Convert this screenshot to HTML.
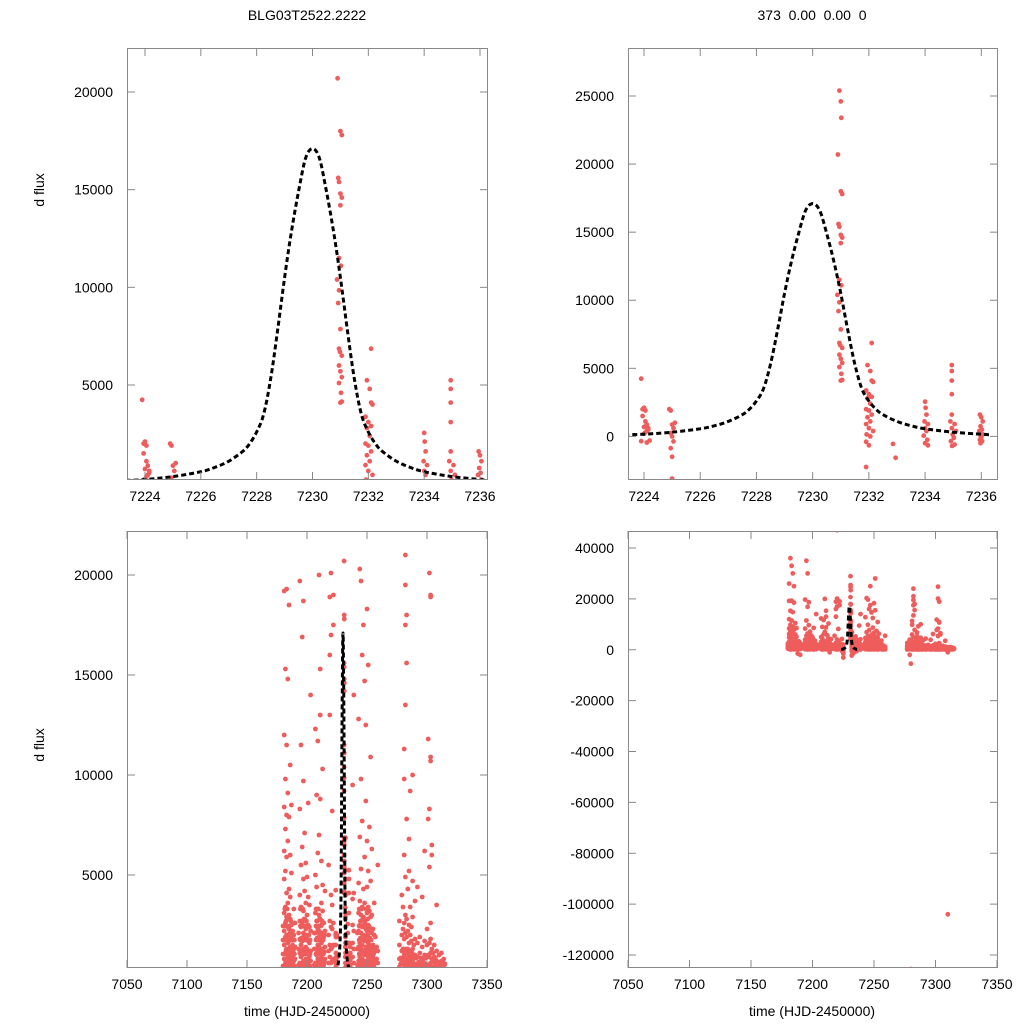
<!DOCTYPE html>
<html><head><meta charset="utf-8"><style>
html,body{margin:0;padding:0;background:#fff;}
svg{display:block;font-family:"Liberation Sans",sans-serif;}
</style></head><body>
<svg id="chart" width="1024" height="1024" viewBox="0 0 1024 1024">
<text x="307" y="20" text-anchor="middle" font-size="14">BLG03T2522.2222</text>
<text x="812" y="20" text-anchor="middle" font-size="14" xml:space="preserve">373  0.00  0.00  0</text>
<text transform="translate(44,190) rotate(-90)" text-anchor="middle" font-size="14">d flux</text>
<text transform="translate(44,745) rotate(-90)" text-anchor="middle" font-size="14">d flux</text>
<text x="307" y="1016" text-anchor="middle" font-size="14">time (HJD-2450000)</text>
<text x="812" y="1016" text-anchor="middle" font-size="14">time (HJD-2450000)</text>
</svg>
<script>
// Event-region observations (time, flux)
const eventT = [7223.9,7223.95,7224.0,7224.05,7224.1,7224.0,7224.15,7223.95,7224.05,7224.1,7224.2,7224.0,7223.9,7224.15,7224.05,7224.1,
7224.9,7224.95,7225.0,7225.05,7224.95,7225.0,7225.05,7224.95,7225.0,7225.0,7225.1,
7230.9,7230.95,7231.0,7231.02,7230.9,7231.0,7231.05,7230.92,7230.95,7231.0,7231.05,7231.0,7230.95,7231.02,7230.88,7230.95,7230.92,7231.0,7230.95,7230.98,7231.05,7230.95,7231.0,7231.05,7230.95,7231.02,7231.0,7231.05,
7232.1,7231.95,7232.05,7232.1,7232.15,7231.9,7232.0,7232.1,7231.95,7232.05,7231.9,7232.0,7232.1,7231.95,7232.05,7231.9,7232.0,7232.15,7231.92,7232.05,7231.9,7232.0,7231.9,
7232.86,7232.95,
7234.0,7234.02,7234.05,7233.98,7234.1,7234.0,7234.05,7233.95,7234.08,7234.0,7234.1,
7234.95,7234.95,7234.95,7234.95,7234.95,7234.9,7235.05,7234.95,7235.1,7234.98,7235.02,7234.92,7235.05,7234.96,
7235.95,7236.0,7236.05,7235.97,7236.02,7235.93,7236.05,7235.98,7236.0,7235.95,7236.03,7235.97];
const eventF = [4240,2000,2100,1900,870,700,500,1500,1100,400,-300,200,-350,600,300,-450,
2000,1900,870,600,250,0,-370,-870,-1500,-3100,1000,
28900,25400,24600,23400,20700,18000,17800,15600,15400,14800,14600,14200,11500,11100,10400,9850,9200,7860,6860,6700,6500,6000,5700,5400,5100,4600,4100,4150,
6860,5240,4800,4100,4000,3370,3100,2900,2800,2400,2000,1900,1600,1400,1100,900,600,400,150,0,-400,-650,-2250,
-550,-1570,
2550,2100,1600,1100,900,600,400,50,-250,-500,-650,
5240,4800,4100,3100,1600,1100,900,600,400,150,-100,-350,-600,-700,
1600,1400,1100,750,500,400,150,0,-100,-250,-350,-500];
// Season observations: night times and flux lists per night
const nightT = [7181,7182,7183,7184,7185,7186,7187,7188,7189,7190,7194,7195,7196,7197,7198,7199,7200,7201,7202,7203,7207,7208,7209,7210,7211,7212,7213,7214,7215,7218,7219,7220,7221,7222,7238,7239,7243,7244,7245,7246,7247,7248,7249,7250,7251,7252,7253,7254,7255,7256,7257,7258,7259,7277,7279,7280,7281,7282,7283,7284,7285,7286,7287,7288,7289,7290,7292,7294,7296,7298,7300,7301,7302,7303,7304,7306,7308,7310,7312,7314];
const nightF = [
[300,800,1500,2200,3100,4800,6200,8400,12000,19200,26000],
[100,600,1100,1900,2600,3400,5200,7300,9800,15300,36000],
[200,700,1300,2000,2900,4100,5900,8000,11500,19300,33000],
[400,900,1600,2400,3600,6700,9100,14800,30000],
[150,500,1000,1700,2300,3000,4300,7900,18500,25000],
[300,800,1400,2100,2800,3900,6000,10500],
[200,600,1200,1800,2500,5100,8500],
[100,400,900,1500,2200,-1500],
[250,700,1300,2000,3300],
[300,800,1400,2600,-2000],
[200,600,1100,1800,2700,4000,8300,19700],
[300,900,1500,2400,3400,5500,11500,35000],
[100,500,1000,1700,2600,6400,16900,30000],
[250,700,1300,2100,3200,4800,9700,18700],
[150,600,1200,1900,2800,4200,7100],
[300,800,1400,2300,3600,5600],
[200,700,1300,2000,3000,4900],
[100,500,1100,1700,2500,3900,8600],
[300,900,1600,2400,3500],
[200,700,1200,2200,14000],
[250,600,1300,2100,3100,5000,12300],
[100,500,1000,1800,2700,4400,9000],
[300,800,1500,2300,3300,6100,11700],
[200,700,1400,2200,3000,7000,20000],
[150,600,1200,1900,2800,8800,13000,15300],
[300,900,1600,2500,3600,5700],
[200,700,1300,2100,3200,4500,10300],
[100,500,1100,1900,2600,-1000],
[250,800,1400,2200,4200],
[200,600,1200,2000,5500],
[300,900,1500,2700,13000,16000,18900],
[100,600,1300,2400,4000,17000,20100,47000],
[200,700,1400,2300,3500,8200],
[200,800,1500,2600,17500,19000],
[300,900,1600,2500,3800,9500],
[100,600,1300,2200,4100,14000],
[200,700,1400,2200,3100,4600,12800],
[300,900,1600,2500,3700,6900,20300],
[150,600,1300,2100,3000,5300,9800,19700],
[250,800,1500,2400,3400,7700,16000],
[100,500,1200,2000,2900,4300,17500,25000],
[300,1000,1700,2600,3600,5900,14700],
[200,700,1400,2300,3300,8700,12500],
[150,600,1300,2200,3100,4400,6700,18300],
[300,900,1600,2500,3400,5200,15500,28000],
[200,800,1500,2400,3200,7400],
[100,600,1300,2200,2900,4700,10900],
[250,700,1400,2100,3000,6300],
[300,900,1500,2300],
[200,700,1300,2000,3600],
[100,600,1200,1900],
[300,800,1400],
[150,600,1200,5500],
[100,400,800,1500,2700],
[200,600,1200,2000,4000,-2000],
[300,700,1300,2300,3400,-125500,-5500],
[100,500,1000,1800,2600,6000,9800,11300],
[200,600,1200,2100,3000,4900,13500,17500,19500,21000,24000],
[150,500,1100,1900,2800,7800,15600,18000],
[300,700,1300,2200,4300],
[100,400,900,1600,2500,5200,6800],
[200,600,1200,2000,3400,9200],
[100,500,1000,1700,2400],
[300,700,1300,2900,4700,10000],
[100,400,900,1500],
[200,500,1000,1800,3700],
[100,400,900,1600,4400],
[200,600,1100,1900],
[100,400,800,1400,3900],
[150,500,1000,1700,6200],
[100,400,900,1500,2300],
[200,500,1000,7800,11800],
[100,400,900,1600,5400,8300,20100,24800],
[200,600,1100,1800,2600,10700,10900,18900,19000],
[100,400,800,1300,6000,6500],
[150,400,900,1500],
[100,300,700,1200,3500],
[200,500,1000,-104000,-1000],
[100,300,700,1100],
[150,400,800]];
// Additional low-level observations on dense nights
const extraT = [7180,7181.5,7182.5,7183.5,7184.5,7185.5,7186.5,7187.5,7188.5,7189.5,7193,7194.5,7195.5,7196.5,7197.5,7198.5,7199.5,7200.5,7201.5,7202.5,7206,7207.5,7208.5,7209.5,7210.5,7211.5,7212.5,7213.5,7214.5,7242,7243.5,7244.5,7245.5,7246.5,7247.5,7248.5,7249.5,7250.5,7251.5,7252.5,7253.5,7254.5,7255.5,7278,7280.5,7281.5,7282.5,7283.5,7284.5,7285.5,7286.5,7287.5,7291,7293,7295,7297,7299,7305,7307,7309,7311,7313,7315];
const extraF = [
[450,1050,1750,2450],[450,1050,1750,2450,3300],[550,1250,1850,2700],[450,1050,1750,2450,3300],[650,1150,2000,2800],[450,1050,1750,2450],[550,1250,1850,2700],[450,1050,1750],[650,1150,2000],[450,1050,1750],
[500,1300,2100],[450,1050,1750,2450,3300],[550,1250,1850,2700],[450,1050,1750,2450,3300],[650,1150,2000,2800],[450,1050,1750,2450],[550,1250,1850,2700],[450,1050,1750,2450],[650,1150,2000],[450,1050,1750],
[500,1300,2100],[450,1050,1750,2450,3300],[550,1250,1850,2700],[450,1050,1750,2450,3300],[650,1150,2000,2800],[450,1050,1750,2450],[550,1250,1850,2700],[450,1050,1750],[650,1150,2000],
[500,1300,2100],[450,1050,1750,2450,3300],[550,1250,1850,2700],[450,1050,1750,2450,3300],[650,1150,2000,2800],[450,1050,1750,2450],[550,1250,1850,2700],[450,1050,1750,2450],[650,1150,2000,2800],[450,1050,1750,2450],[550,1250,1850],[450,1050,1750],[650,1150],[450,1050],
[250,550,850],[250,550,850,1300],[350,650,1100],[250,550,850,1300],[350,650,1100],[250,550,850],[350,650,1100],[250,550,850],[350,650,1100],[250,550,850],[350,650],[250,550,850],[350,650],[250,550,850],[350,650,1100],[250,550,850],[350,650],[250,550],[350,650],[250,550]];
// Model curve samples
const modelT = [7223.3,7224,7225,7226,7226.5,7227,7227.5,7227.75,7228,7228.25,7228.5,7228.75,7229,7229.25,7229.5,7229.75,7230,7230.25,7230.5,7230.75,7231,7231.25,7231.5,7231.75,7232,7232.25,7232.5,7233,7233.5,7234,7235,7236,7236.3];
const modelF = [120,160,310,560,780,1100,1600,2000,2600,3500,5300,7800,10500,12900,14900,16600,17100,16600,14900,12900,10500,7800,5300,3500,2600,2000,1600,1100,780,560,310,160,120];
const topXTicks = [7224,7226,7228,7230,7232,7234,7236];
const botXTicks = [7050,7100,7150,7200,7250,7300,7350];
const tlYTicks = [5000,10000,15000,20000];
const trYTicks = [0,5000,10000,15000,20000,25000];
const blYTicks = [5000,10000,15000,20000];
const brYTicks = [-120000,-100000,-80000,-60000,-40000,-20000,0,20000,40000];

const NS='http://www.w3.org/2000/svg';
const svg=document.getElementById('chart');
function mk(tag,attrs,parent){const e=document.createElementNS(NS,tag);for(const k in attrs)e.setAttribute(k,attrs[k]);(parent||svg).appendChild(e);return e;}
function smoothPath(pts){
 let d='M'+pts[0][0].toFixed(1)+' '+pts[0][1].toFixed(1);
 for(let i=0;i<pts.length-1;i++){
  const p0=pts[Math.max(i-1,0)],p1=pts[i],p2=pts[i+1],p3=pts[Math.min(i+2,pts.length-1)];
  const c1x=p1[0]+(p2[0]-p0[0])/6,c1y=p1[1]+(p2[1]-p0[1])/6;
  const c2x=p2[0]-(p3[0]-p1[0])/6,c2y=p2[1]-(p3[1]-p1[1])/6;
  d+=' C'+c1x.toFixed(1)+' '+c1y.toFixed(1)+' '+c2x.toFixed(1)+' '+c2y.toFixed(1)+' '+p2[0].toFixed(1)+' '+p2[1].toFixed(1);
 }
 return d;
}

const allT=[],allF=[];
eventT.forEach((t,i)=>{allT.push(t);allF.push(eventF[i]);});
nightT.forEach((t,i)=>nightF[i].forEach(f=>{allT.push(t);allF.push(f);}));
extraT.forEach((t,i)=>extraF[i].forEach(f=>{allT.push(t);allF.push(f);}));

const panels=[
 {id:'tl',x0:127,x1:488,y0:48,y1:480,tA:7224,pA:145,tB:7236,pB:480,fA:5000,qA:385,fB:20000,qB:92,xt:topXTicks,yt:tlYTicks},
 {id:'tr',x0:628,x1:998,y0:48,y1:480,tA:7224,pA:644,tB:7236,pB:981.3,fA:0,qA:436.4,fB:25000,qB:96,xt:topXTicks,yt:trYTicks},
 {id:'bl',x0:127,x1:488,y0:531,y1:968,tA:7050,pA:127,tB:7350,pB:487,fA:5000,qA:875,fB:20000,qB:575,xt:botXTicks,yt:blYTicks},
 {id:'br',x0:628,x1:998,y0:531,y1:968,tA:7050,pA:628,tB:7350,pB:997,fA:-120000,qA:955,fB:40000,qB:548,xt:botXTicks,yt:brYTicks}
];
const defs=mk('defs',{});
panels.forEach(p=>{
 const xs=t=>p.pA+(t-p.tA)*(p.pB-p.pA)/(p.tB-p.tA);
 const ys=f=>p.qA+(f-p.fA)*(p.qB-p.qA)/(p.fB-p.fA);
 const cp=mk('clipPath',{id:'clip-'+p.id},defs);
 mk('rect',{x:p.x0,y:p.y0,width:p.x1-p.x0,height:p.y1-p.y0},cp);
 const g=mk('g',{'clip-path':'url(#clip-'+p.id+')'});
 
 
 allT.forEach((t,i)=>{
  const x=xs(t),y=ys(allF[i]);
  if(x<p.x0-4||x>p.x1+4||y<p.y0-4||y>p.y1+4)return;
  const c=mk('circle',{cx:x.toFixed(1),cy:y.toFixed(1),r:2.4,fill:'#ee5c5c'},g);
  
  
 });
 const pts=modelT.map((t,i)=>[xs(t),ys(modelF[i])]);
 const ml=mk('path',{d:smoothPath(pts),fill:'none',stroke:'#000','stroke-width':3,'stroke-dasharray':'5 3','stroke-linejoin':'round'},g);
 
 
 const fr=mk('rect',{x:p.x0+0.5,y:p.y0+0.5,width:p.x1-p.x0-1,height:p.y1-p.y0-1,fill:'none',stroke:'#888','stroke-width':1});
 
 
 p.xt.forEach(t=>{
  const x=xs(t);
  mk('line',{x1:x,y1:p.y1,x2:x,y2:p.y1-8,stroke:'#888'});
  mk('line',{x1:x,y1:p.y0,x2:x,y2:p.y0+8,stroke:'#888'});
  const tx=mk('text',{x:x,y:p.y1+21,'text-anchor':'middle','font-size':14});
  tx.textContent=t;
  
  
 });
 p.yt.forEach(f=>{
  const y=ys(f);
  mk('line',{x1:p.x0,y1:y,x2:p.x0+8,y2:y,stroke:'#888'});
  mk('line',{x1:p.x1,y1:y,x2:p.x1-8,y2:y,stroke:'#888'});
  const tx=mk('text',{x:p.x0-14,y:y+5,'text-anchor':'end','font-size':14});
  tx.textContent=f;
  
  
 });
});
</script>
</body></html>
